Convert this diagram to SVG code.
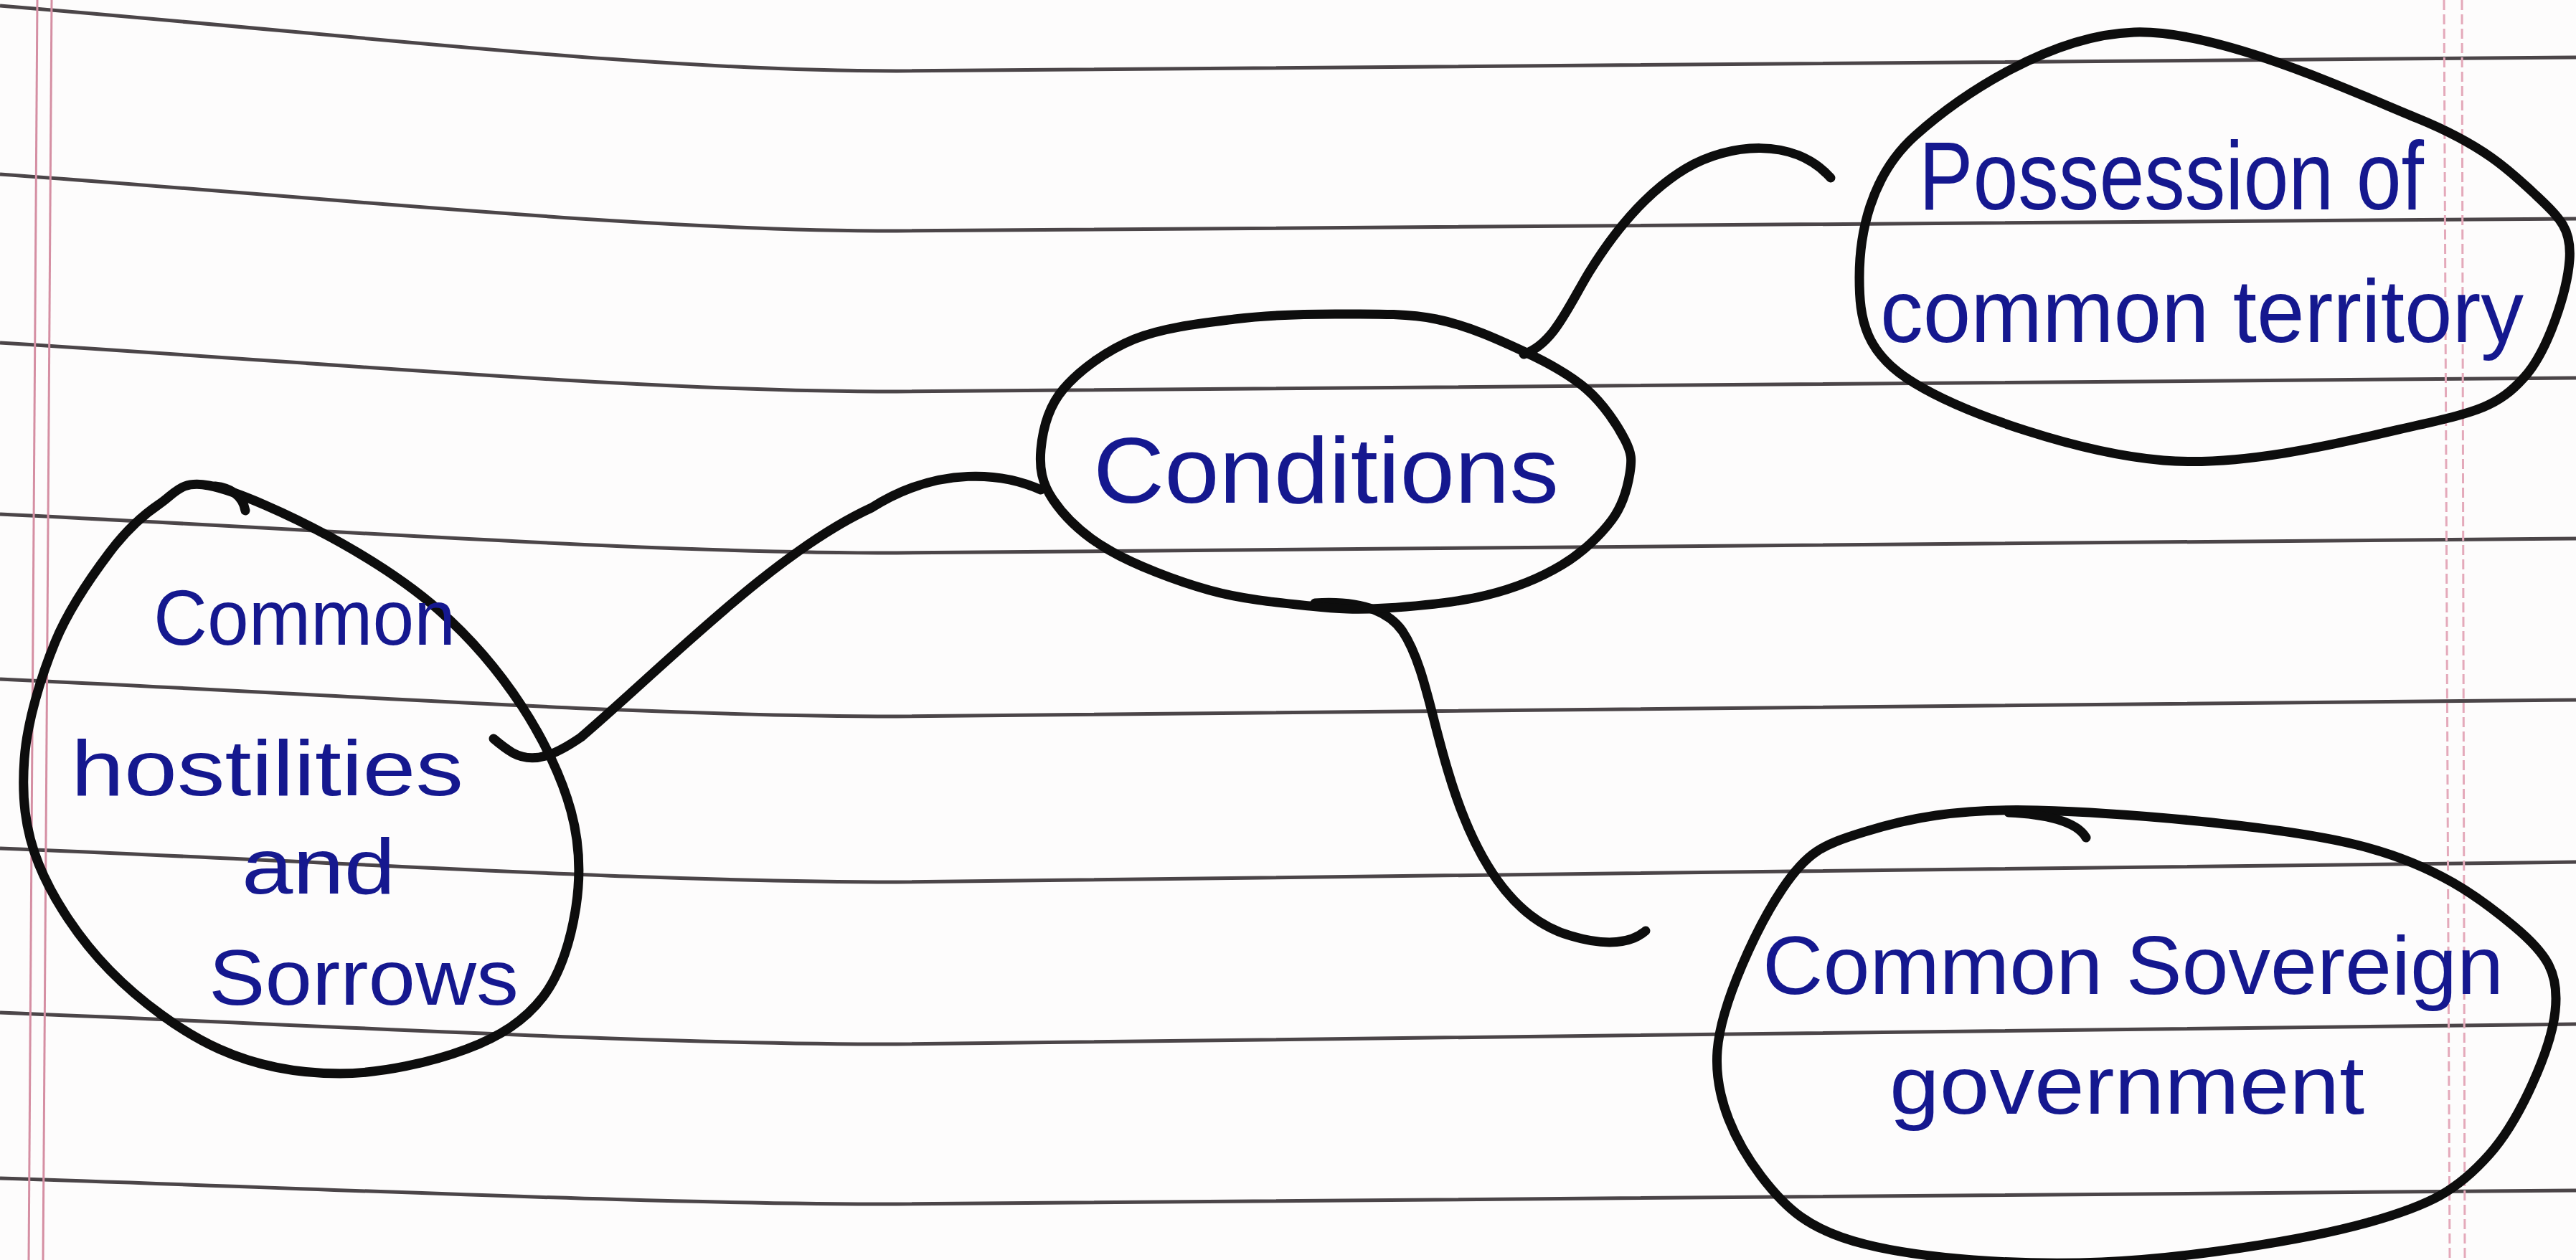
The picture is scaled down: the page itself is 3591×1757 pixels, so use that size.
<svg xmlns="http://www.w3.org/2000/svg" width="3591" height="1757" viewBox="0 0 3591 1757">
  <style>
    .rule { fill: none; stroke: #4b4548; stroke-width: 5; }
    .margin { fill: none; stroke: #d58fa3; stroke-width: 3; }
    .margin-r { fill: none; stroke: #e4a9ba; stroke-width: 3; stroke-dasharray: 14 6; }
    .pen { fill: none; stroke: #0d0d0d; stroke-width: 13; stroke-linecap: round; stroke-linejoin: round; }
    .ink { fill: #15188f; font-family: "Liberation Sans", Arial, sans-serif; }
  </style>

  <!-- notebook paper -->
  <rect x="0" y="0" width="3591" height="1757" fill="#fdfcfc"/>
  <g id="paper-rules">
    <path class="rule" d="M0,8 C500,49 900,99 1250,99 L3591,80"/>
    <path class="rule" d="M0,243 C500,279 900,322 1250,322 L3591,305"/>
    <path class="rule" d="M0,478 C500,509 900,546 1250,546 L3591,527"/>
    <path class="rule" d="M0,717 C500,741 900,771 1250,771 L3591,751"/>
    <path class="rule" d="M0,947 C500,970 900,999 1250,999 L3591,976"/>
    <path class="rule" d="M0,1183 C500,1203 900,1230 1250,1230 L3591,1202"/>
    <path class="rule" d="M0,1412 C500,1432 900,1456 1250,1456 L3591,1428"/>
    <path class="rule" d="M0,1643 C500,1659 900,1679 1250,1679 L3591,1660"/>
  </g>
  <g id="paper-margins">
    <line class="margin" x1="52" y1="0" x2="40" y2="1757"/>
    <line class="margin" x1="72" y1="0" x2="60" y2="1757"/>
    <line class="margin-r" x1="3407" y1="0" x2="3415" y2="1757"/>
    <line class="margin-r" x1="3432" y1="0" x2="3436" y2="1757"/>
  </g>

  <!-- connectors -->
  <g id="connectors">
    <path class="pen" d="M1451,683 C1400,660 1310,648 1215,708 C1080,770 930,925 810,1028 C775,1052 745,1066 715,1050 C705,1044 695,1036 688,1030"/>
    <path class="pen" d="M2124,494 C2165,480 2185,430 2215,380 C2255,315 2300,265 2350,235 C2410,200 2500,190 2552,248"/>
    <path class="pen" d="M1833,841 C1880,838 1930,845 1955,880 C1985,925 1995,1000 2020,1080 C2050,1180 2100,1280 2190,1305 C2240,1320 2275,1315 2294,1298"/>
  </g>

  <!-- central node -->
  <g id="node-conditions">
    <path class="pen" d="M1861,438 C1907.8,438 1958.2,436.3 2002,445 C2045.8,453.7 2089,473.7 2124,490 C2159,506.3 2188.5,522.5 2212,543 C2235.5,563.5 2255,593.5 2265,613 C2275,632.5 2275,641.3 2272,660 C2269,678.7 2262.8,703.7 2247,725 C2231.2,746.3 2206.2,770.5 2177,788 C2147.8,805.5 2113,820 2072,830 C2031,840 1972,845.5 1931,848 C1890,850.5 1866.8,849.2 1826,845 C1785.2,840.8 1732.7,836 1686,823 C1639.3,810 1582.3,788 1546,767 C1509.7,746 1483.8,720.3 1468,697 C1452.2,673.7 1448.7,652.7 1451,627 C1453.3,601.3 1460.3,568.7 1482,543 C1503.7,517.3 1541.2,489.3 1581,473 C1620.8,456.7 1674.3,450.8 1721,445 C1767.7,439.2 1814.2,438 1861,438 Z"/>
    <text class="ink" x="1524" y="701" font-size="130" textLength="649" lengthAdjust="spacingAndGlyphs">Conditions</text>
  </g>

  <!-- upper right node -->
  <g id="node-territory">
    <path class="pen" d="M2975,45 C3092,41 3277,127 3370,165 C3463,203 3500,239 3535,272 C3570,305 3585,320 3582,362 C3579,404 3553,489 3518,527 C3483,566 3454,574 3370,593 C3286,612 3133,652 3016,642 C2899,632 2741,578 2670,535 C2599,493 2592,445 2592,387 C2592,329 2606,246 2670,189 C2734,132 2858,49 2975,45 Z"/>
    <text class="ink" x="2675" y="292" font-size="135" textLength="704" lengthAdjust="spacingAndGlyphs">Possession of</text>
    <text class="ink" x="2621" y="477" font-size="125" textLength="897" lengthAdjust="spacingAndGlyphs">common territory</text>
  </g>

  <!-- left node -->
  <g id="node-hostilities">
    <path class="pen" d="M291,677 C330.5,684.5 405.5,719 459,748 C512.5,777 567.3,811.7 612,851 C656.7,890.3 696.3,937.3 727,984 C757.7,1030.7 783.3,1084.3 796,1131 C808.7,1177.7 809.5,1220.8 803,1264 C796.5,1307.2 782.5,1356.8 757,1390 C731.5,1423.2 697.2,1445.2 650,1463 C602.8,1480.8 531.3,1497 474,1497 C416.7,1497 359.5,1487 306,1463 C252.5,1439 195,1396 153,1353 C111,1310 73.8,1254.2 54,1205 C34.2,1155.8 30.2,1109.7 34,1058 C37.8,1006.3 57.2,943 77,895 C96.8,847 128.8,802 153,770 C177.2,738 199,718.5 222,703 C245,687.5 251.5,669.5 291,677 Z"/>
    <path class="pen" d="M300,678 C320,680 338,690 342,712"/>
    <text class="ink" x="214" y="899" font-size="110" textLength="421" lengthAdjust="spacingAndGlyphs">Common</text>
    <text class="ink" x="99" y="1109" font-size="110" textLength="547" lengthAdjust="spacingAndGlyphs">hostilities</text>
    <text class="ink" x="337" y="1246" font-size="110" textLength="214" lengthAdjust="spacingAndGlyphs">and</text>
    <text class="ink" x="291" y="1401" font-size="110" textLength="432" lengthAdjust="spacingAndGlyphs">Sorrows</text>
  </g>

  <!-- lower right node -->
  <g id="node-government">
    <path class="pen" d="M2840,1130 C2954.3,1133 3174.2,1151 3285,1178 C3395.8,1205 3458.8,1253.3 3505,1292 C3551.2,1330.7 3567.8,1357 3562,1410 C3556.2,1463 3513.7,1560.8 3470,1610 C3426.3,1659.2 3390,1680 3300,1705 C3210,1730 3046.7,1755 2930,1760 C2813.3,1765 2679.2,1755 2600,1735 C2520.8,1715 2489.3,1685 2455,1640 C2420.7,1595 2389,1531.8 2394,1465 C2399,1398.2 2450.8,1289.8 2485,1239 C2519.2,1188.2 2539.8,1178.2 2599,1160 C2658.2,1141.8 2725.7,1127 2840,1130 Z"/>
    <path class="pen" d="M2800,1133 C2850,1135 2895,1145 2908,1168"/>
    <text class="ink" x="2457" y="1386" font-size="115" textLength="1033" lengthAdjust="spacingAndGlyphs">Common Sovereign</text>
    <text class="ink" x="2634" y="1553" font-size="115" textLength="662" lengthAdjust="spacingAndGlyphs">government</text>
  </g>
</svg>
